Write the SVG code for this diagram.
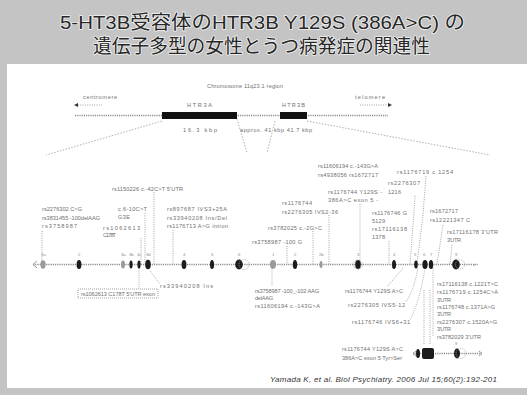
<svg xmlns="http://www.w3.org/2000/svg" width="527" height="395" viewBox="0 0 527 395">
<style>
.frame{fill:#c4c4c4}
.title{font-family:"Liberation Sans","Noto Sans CJK JP",sans-serif;font-size:19px;fill:#262626;stroke:#f2f2f2;stroke-width:1.6px;paint-order:stroke;stroke-linejoin:round}
.lb{font-family:"Liberation Sans",sans-serif;font-size:5.6px;fill:#707070}
.tn{font-family:"Liberation Sans",sans-serif;font-size:4.2px;fill:#8a8a8a}
.cite{font-family:"Liberation Sans",sans-serif;font-size:8px;font-style:italic;fill:#333}
.ld{fill:none;stroke:#9a9a9a;stroke-width:0.9;stroke-dasharray:1 1.3}
.zm{fill:none;stroke:#a8a8a8;stroke-width:0.9;stroke-dasharray:1.5 1.5}
.axis{fill:none;stroke:#8c8c8c;stroke-width:1.3;stroke-dasharray:1.2 1}
.ex{fill:#1c1c1c}
.exg{fill:#9a9a9a}
.ring{fill:none;stroke:#a0a0a0;stroke-width:0.8;stroke-dasharray:1 1}
.bar{fill:#111}
.box{fill:none;stroke:#8a8a8a;stroke-width:0.8;stroke-dasharray:1 1}
</style>

<!-- frame -->
<rect class="frame" x="0" y="0" width="527" height="64"/>
<rect class="frame" x="0" y="64" width="7" height="331"/>
<rect class="frame" x="0" y="388" width="527" height="7"/>
<rect x="7" y="64" width="520" height="324" fill="#ffffff"/>

<g id="title">
<text class="title" x="60" y="29" textLength="405" lengthAdjust="spacingAndGlyphs">5-HT3B受容体のHTR3B Y129S (386A&gt;C) の</text>
<text class="title" x="93" y="53" textLength="337" lengthAdjust="spacingAndGlyphs">遺伝子多型の女性とうつ病発症の関連性</text>
</g>

<!-- upper chromosome map -->
<g id="chromosome-map">
<text class="lb" x="207" y="88" textLength="76" lengthAdjust="spacing">Chromosome 11q23.1 region</text>
<text class="lb" x="83" y="99" textLength="34" lengthAdjust="spacing">centromere</text>
<polygon points="74,105 78,103 78,107" fill="#333"/>
<line class="ld" x1="78" y1="105" x2="102" y2="105"/>
<text class="lb" x="355" y="99" textLength="30" lengthAdjust="spacing">telomere</text>
<line class="ld" x1="360" y1="105" x2="387" y2="105"/>
<polygon points="392,105 388,103 388,107" fill="#333"/>
<line class="axis" x1="75" y1="115.5" x2="388" y2="115.5"/>
</g>
<g id="gene-htr3a">
<rect class="bar" x="162" y="112" width="75" height="7"/>
<text class="lb" x="187" y="107" textLength="25" lengthAdjust="spacing">HTR3A</text>
<text class="lb" x="183" y="132" textLength="34" lengthAdjust="spacing">16.3 kbp</text>
</g>
<g id="gene-htr3b">
<rect class="bar" x="280" y="112" width="27" height="7"/>
<text class="lb" x="282" y="107" textLength="23" lengthAdjust="spacing">HTR3B</text>
<text class="lb" x="240" y="132" textLength="72" lengthAdjust="spacing">approx. 41 kbp 41.7 kbp</text>
</g>

<g id="connectors">
<line class="zm" x1="162" y1="121" x2="46" y2="155"/>
<line class="zm" x1="237" y1="119" x2="247" y2="153"/>
<line class="zm" x1="275" y1="121" x2="267" y2="153"/>
<line class="zm" x1="307" y1="121" x2="490" y2="155"/>

<line class="ld" x1="42" y1="231" x2="42" y2="264"/>
<line class="ld" x1="145" y1="213" x2="145" y2="264"/>
<line class="ld" x1="141" y1="238" x2="141" y2="264"/>
<line class="ld" x1="154" y1="192" x2="154" y2="264"/>
<line class="ld" x1="173" y1="230" x2="173" y2="264"/>
<line class="ld" x1="287" y1="246" x2="287" y2="264"/>
<line class="ld" x1="313" y1="231" x2="313" y2="264"/>
<line class="ld" x1="329" y1="215" x2="329" y2="264"/>
<line class="ld" x1="360" y1="204" x2="360" y2="264"/>
<line class="ld" x1="389" y1="241" x2="389" y2="264"/>
<path class="ld" d="M426,176 L423,215 L417,264"/>
<path class="ld" d="M415,196 L413,225 L410,264"/>
<line class="ld" x1="443" y1="225" x2="437" y2="264"/>
<line class="ld" x1="452" y1="245" x2="450" y2="264"/>

<line class="ld" x1="139" y1="268" x2="139" y2="289"/>
<line class="ld" x1="150" y1="271" x2="160" y2="284"/>
<line class="ld" x1="272" y1="268" x2="272" y2="286"/>
<line class="ld" x1="403" y1="268" x2="387" y2="287"/>
<path class="ld" d="M418,268 Q414,290 406,302"/>
<path class="ld" d="M425,268 Q420,300 410,320"/>
<line class="ld" x1="433" y1="268" x2="433" y2="336"/>
<line class="ld" x1="424" y1="290" x2="424" y2="345"/>
<line class="ld" x1="430" y1="290" x2="430" y2="345"/>
</g>

<g id="gene-structure">
<line class="axis" x1="33" y1="264.5" x2="478" y2="264.5"/>
<polyline points="37,261 33,264.5 37,268" fill="none" stroke="#8c8c8c" stroke-width="0.9"/>
<text class="tn" x="473" y="266">x</text>
<ellipse class="exg" cx="43" cy="264.5" rx="2.6" ry="4.2"/>
<ellipse class="ex" cx="79" cy="264.5" rx="2.4" ry="4.6"/>
<ellipse class="exg" cx="123" cy="264.5" rx="2" ry="4"/>
<ellipse class="ex" cx="131" cy="264.5" rx="1.6" ry="4"/>
<ellipse class="ex" cx="139" cy="264.5" rx="1.6" ry="4"/>
<ellipse class="ex" cx="148" cy="264.5" rx="2.8" ry="4.8"/>
<ellipse class="ex" cx="184" cy="264.5" rx="2.4" ry="4.6"/>
<ellipse class="ex" cx="212" cy="264.5" rx="2" ry="4.6"/>
<ellipse class="ex" cx="239" cy="264.5" rx="3.8" ry="5"/>
<circle class="ring" cx="244" cy="264.5" r="5"/>
<ellipse class="exg" cx="273" cy="264.5" rx="3" ry="4.4"/>
<ellipse class="ex" cx="295" cy="264.5" rx="2.2" ry="4.6"/>
<ellipse class="exg" cx="321" cy="264.5" rx="1.5" ry="3.6"/>
<ellipse class="ex" cx="358" cy="264.5" rx="2.8" ry="4.6"/>
<circle class="ring" cx="358" cy="264.5" r="4.6"/>
<ellipse class="ex" cx="394" cy="264.5" rx="2" ry="4.6"/>
<ellipse class="ex" cx="416" cy="264.5" rx="1.8" ry="4"/>
<ellipse class="ex" cx="425" cy="264.5" rx="2.6" ry="4.6"/>
<ellipse class="ex" cx="431" cy="264.5" rx="2.2" ry="4.6"/>
<ellipse class="ex" cx="456" cy="264.5" rx="3.8" ry="5"/>
<circle class="ring" cx="460" cy="264.5" r="4.6"/>
<text class="tn" x="41" y="256">1a</text>
<text class="tn" x="78" y="256">2</text>
<text class="tn" x="121" y="256">3a</text>
<text class="tn" x="129" y="256">3b</text>
<text class="tn" x="137" y="256">3c</text>
<text class="tn" x="146" y="256">3d</text>
<text class="tn" x="183" y="256">4</text>
<text class="tn" x="211" y="256">5</text>
<text class="tn" x="238" y="256">6</text>
<text class="tn" x="272" y="256">1</text>
<text class="tn" x="294" y="256">2</text>
<text class="tn" x="319" y="256">2b</text>
<text class="tn" x="357" y="256">3</text>
<text class="tn" x="393" y="256">4</text>
<text class="tn" x="414" y="256">5</text>
<text class="tn" x="423" y="256">6</text>
<text class="tn" x="430" y="256">7</text>
<text class="tn" x="455" y="256">9</text>
</g>

<g id="label-a">
<text class="lb" x="42" y="211" textLength="40" lengthAdjust="spacing">rs2276302 C&gt;G</text>
<text class="lb" x="42" y="219.5" textLength="58" lengthAdjust="spacing">rs3831455 -100delAAG</text>
<text class="lb" x="42" y="228" textLength="35" lengthAdjust="spacing">rs3758987</text>
</g>
<g id="label-b">
<text class="lb" x="118" y="211" textLength="29" lengthAdjust="spacing">c.6-10C&gt;T</text>
<text class="lb" x="118" y="219" textLength="12" lengthAdjust="spacing">G3E</text>
</g>
<g id="label-c">
<text class="lb" x="112" y="191" textLength="71" lengthAdjust="spacing">rs1150226 c.-42C&gt;T 5'UTR</text>
</g>
<g id="label-d">
<text class="lb" x="103" y="230" textLength="37" lengthAdjust="spacing">rs1062613</text>
<text class="lb" x="103" y="237" textLength="13" lengthAdjust="spacing">C178T</text>
</g>
<g id="label-e">
<text class="lb" x="167" y="211" textLength="60" lengthAdjust="spacing">rs897687 IVS3+25A</text>
<text class="lb" x="167" y="219.5" textLength="60" lengthAdjust="spacing">rs33940208 Ins/Del</text>
<text class="lb" x="167" y="228" textLength="61" lengthAdjust="spacing">rs1176713 A&gt;G intron</text>
</g>
<g id="label-j">
<text class="lb" x="252" y="244" textLength="50" lengthAdjust="spacing">rs3758987 -100 G</text>
</g>
<g id="label-i">
<text class="lb" x="268" y="230" textLength="54" lengthAdjust="spacing">rs3782025 c.-2G&gt;C</text>
</g>
<g id="label-h">
<text class="lb" x="282" y="205" textLength="30" lengthAdjust="spacing">rs1176744</text>
<text class="lb" x="282" y="214" textLength="56" lengthAdjust="spacing">rs2276305 IVS2-36</text>
</g>
<g id="label-f">
<text class="lb" x="318" y="168" textLength="60" lengthAdjust="spacing">rs11606194 c.-143G&gt;A</text>
<text class="lb" x="318" y="177" textLength="60" lengthAdjust="spacing">rs4938056 rs1672717</text>
</g>
<g id="label-g">
<text class="lb" x="328" y="194" textLength="54" lengthAdjust="spacing">rs1176744 Y129S -</text>
<text class="lb" x="328" y="202" textLength="50" lengthAdjust="spacing">386A&gt;C exon 5 -</text>
</g>
<g id="label-l">
<text class="lb" x="372" y="215" textLength="35" lengthAdjust="spacing">rs1176746 G</text>
<text class="lb" x="372" y="222.5" textLength="13" lengthAdjust="spacing">5129</text>
<text class="lb" x="372" y="230.5" textLength="35" lengthAdjust="spacing">rs17116138</text>
<text class="lb" x="372" y="238.5" textLength="13" lengthAdjust="spacing">1378</text>
</g>
<g id="label-m">
<text class="lb" x="397" y="174" textLength="56" lengthAdjust="spacing">rs1176719 c.1254</text>
</g>
<g id="label-n">
<text class="lb" x="388" y="185" textLength="32" lengthAdjust="spacing">rs2276307</text>
<text class="lb" x="388" y="194" textLength="13" lengthAdjust="spacing">1216</text>
</g>
<g id="label-o">
<text class="lb" x="430" y="213" textLength="28" lengthAdjust="spacing">rs1672717</text>
<text class="lb" x="430" y="222" textLength="40" lengthAdjust="spacing">rs12221347 C</text>
</g>
<g id="label-p">
<text class="lb" x="447" y="234" textLength="51" lengthAdjust="spacing">rs17116178 3'UTR</text>
<text class="lb" x="447" y="242" textLength="14" lengthAdjust="spacing">3'UTR</text>
</g>

<g id="label-box">
<rect class="box" x="78" y="289" width="80" height="9"/>
<text class="lb" x="81" y="295.5" textLength="74" lengthAdjust="spacing">rs1062613 C178T 5'UTR exon</text>
</g>
<g id="label-k">
<text class="lb" x="160" y="288" textLength="53" lengthAdjust="spacing">rs33940208 Ins</text>
</g>
<g id="label-s">
<text class="lb" x="255" y="293" textLength="64" lengthAdjust="spacing">rs3758987 -100_-102 AAG</text>
<text class="lb" x="255" y="300" textLength="18" lengthAdjust="spacing">delAAG</text>
<text class="lb" x="255" y="308" textLength="65" lengthAdjust="spacing">rs11606194 c.-143G&gt;A</text>
</g>
<g id="label-q">
<text class="lb" x="345" y="293" textLength="58" lengthAdjust="spacing">rs1176744 Y129S A&gt;C</text>
<text class="lb" x="348" y="307" textLength="57" lengthAdjust="spacing">rs2276305 IVS5-12</text>
<text class="lb" x="352" y="324" textLength="58" lengthAdjust="spacing">rs1176746 IVS6+31</text>
</g>
<g id="label-r">
<text class="lb" x="437" y="286" textLength="61" lengthAdjust="spacing">rs17116138 c.1221T&gt;C</text>
<text class="lb" x="437" y="294" textLength="61" lengthAdjust="spacing">rs1176719 c.1254C&gt;A</text>
<text class="lb" x="437" y="301.5" textLength="14" lengthAdjust="spacing">3'UTR</text>
<text class="lb" x="437" y="309" textLength="58" lengthAdjust="spacing">rs1176748 c.1371A&gt;G</text>
<text class="lb" x="437" y="316" textLength="14" lengthAdjust="spacing">3'UTR</text>
<text class="lb" x="437" y="324" textLength="60" lengthAdjust="spacing">rs2276307 c.1520A&gt;G</text>
<text class="lb" x="437" y="331" textLength="14" lengthAdjust="spacing">3'UTR</text>
<text class="lb" x="437" y="339" textLength="44" lengthAdjust="spacing">rs3782029 3'UTR</text>
</g>

<g id="small-gene">
<text class="lb" x="342" y="351" textLength="61" lengthAdjust="spacing">rs1176744 Y129S A&gt;C</text>
<text class="lb" x="342" y="360" textLength="60" lengthAdjust="spacing">386A&gt;C exon 5 Tyr&gt;Ser</text>
<line class="axis" x1="413" y1="353.5" x2="482" y2="353.5"/>
<polyline points="416,351 413,353.5 416,356" fill="none" stroke="#8c8c8c" stroke-width="0.9"/>
<polyline points="479,351 482,353.5 479,356" fill="none" stroke="#8c8c8c" stroke-width="0.9"/>
<ellipse class="ex" cx="418" cy="353.5" rx="2" ry="4.6"/>
<rect class="ex" x="422" y="348" width="12" height="11" rx="2"/>
<ellipse class="ex" cx="457" cy="353.5" rx="3" ry="5"/>
<circle class="ring" cx="461" cy="353.5" r="5"/>
<text class="tn" x="455" y="345">9</text>
</g>

<g id="citation">
<text class="cite" x="270" y="382" textLength="227" lengthAdjust="spacing">Yamada K, et al. Biol Psychiatry. 2006 Jul 15;60(2):192-201</text>
</g>
</svg>
